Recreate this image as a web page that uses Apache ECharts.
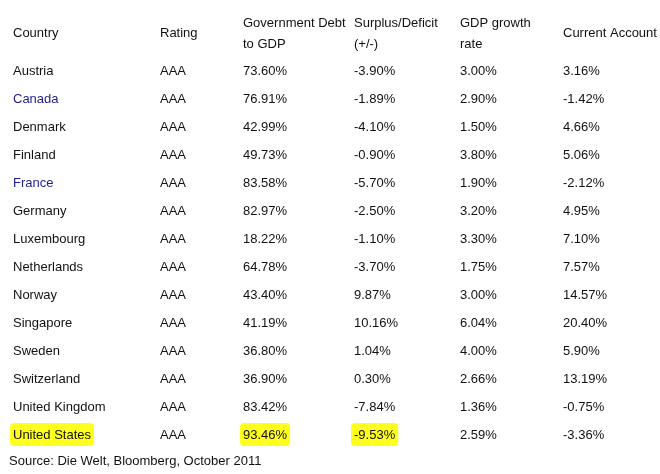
<!DOCTYPE html>
<html>
<head>
<meta charset="utf-8">
<script src="https://cdn.jsdelivr.net/npm/echarts@6/dist/echarts.min.js"></script>
<style>
 html,body{margin:0;padding:0;background:#fff;}
 #main{width:660px;height:474px;}
</style>
</head>
<body>
<div id="main"></div>
<script>
// table data
var countries = ['Austria','Canada','Denmark','Finland','France','Germany','Luxembourg','Netherlands','Norway','Singapore','Sweden','Switzerland','United Kingdom','United States'];
var ratings = ['AAA','AAA','AAA','AAA','AAA','AAA','AAA','AAA','AAA','AAA','AAA','AAA','AAA','AAA'];
var debtToGdp = [73.60,76.91,42.99,49.73,83.58,82.97,18.22,64.78,43.40,41.19,36.80,36.90,83.42,93.46];
var surplusDeficit = [-3.90,-1.89,-4.10,-0.90,-5.70,-2.50,-1.10,-3.70,9.87,10.16,1.04,0.30,-7.84,-9.53];
var gdpGrowth = [3.00,2.90,1.50,3.80,1.90,3.20,3.30,1.75,3.00,6.04,4.00,2.66,1.36,2.59];
var currentAccount = [3.16,-1.42,4.66,5.06,-2.12,4.95,7.10,7.57,14.57,20.40,5.90,13.19,-0.75,-3.36];
var headers = [['Country'],['Rating'],['Government Debt','to GDP'],['Surplus/Deficit','(+/-)'],['GDP growth','rate'],['Current Account']];
var linkCountries = ['Canada','France'];
// highlighted cells: [country, column index]
var highlights = [['United States',0],['United States',2],['United States',3]];
var source = 'Source: Die Welt, Bloomberg, October 2011';

var colX = [13,160,243,354,460,563];//列的左边
var font = '13px Arial, "Liberation Sans", sans-serif';
var textColor = '#111';
var linkColor = '#1f1f8c';

var ctx = document.createElement('canvas').getContext('2d');
ctx.font = '13px "Liberation Sans", Arial, sans-serif';

function pct(v){ return v.toFixed(2) + '%'; }

function cellTexts(i){
  return [countries[i], ratings[i], pct(debtToGdp[i]), pct(surplusDeficit[i]), pct(gdpGrowth[i]), pct(currentAccount[i])];
}

var myChart = echarts.init(document.getElementById('main'));

var headerGraphics = [];
headers.forEach(function(h, j){
  if(h.length == 1){
    headerGraphics.push({type:'text', left:colX[j], top:27, style:{text:h[0], font:font, fill:textColor}});
  }else{
    headerGraphics.push({type:'text', left:colX[j], top:17, style:{text:h[0], font:font, fill:textColor}});
    headerGraphics.push({type:'text', left:colX[j], top:38, style:{text:h[1], font:font, fill:textColor}});
  }
});
headerGraphics.push({type:'text', left:9, top:455, style:{text:source, font:font, fill:textColor}});

myChart.setOption({
  backgroundColor:'#fff',
  animation:false,
  grid:{left:0, right:0, top:56, bottom:26},
  xAxis:{type:'value', min:0, max:660, show:false},
  yAxis:{type:'category', data:countries, inverse:true, show:false},
  graphic:headerGraphics,
  series:[{
    type:'custom',
    data:countries.map(function(c,i){ return [0,i]; }),
    renderItem:function(params, api){
      var i = params.dataIndex;
      var y = api.coord([0, i])[1];
      var texts = cellTexts(i);
      var children = [];
      highlights.forEach(function(h){
        if(h[0] == countries[i]){
          var w = ctx.measureText(texts[h[1]]).width;
          children.push({
            type:'rect',
            shape:{x:colX[h[1]]-3, y:y-11, width:w+6, height:23, r:4},
            style:{fill:'#ffff1f'}
          });
        }
      });
      texts.forEach(function(t, j){
        var fill = textColor;
        if(j == 0 && linkCountries.indexOf(t) >= 0) fill = linkColor;
        children.push({
          type:'text',
          style:{text:t, x:colX[j], y:y+1, font:font, fill:fill, verticalAlign:'middle', align:'left'}
        });
      });
      return {type:'group', children:children};
    }
  }]
});
</script>
</body>
</html>
